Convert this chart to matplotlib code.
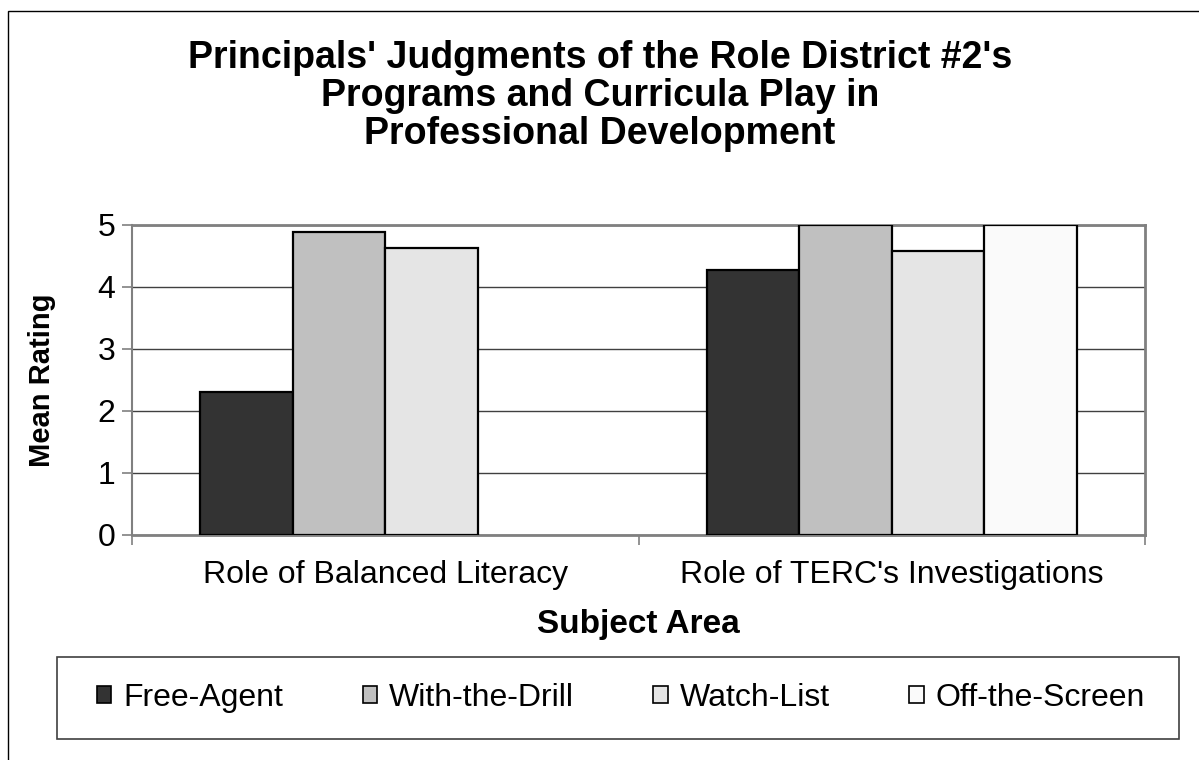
import numpy as np
import matplotlib
matplotlib.use('Agg')
from matplotlib import pyplot as plt
from matplotlib.patches import Patch, Rectangle

plt.rcParams['font.family'] = ['Liberation Sans', 'DejaVu Sans']

categories = ['Role of Balanced Literacy', "Role of TERC's Investigations"]
series = ['Free-Agent', 'With-the-Drill', 'Watch-List', 'Off-the-Screen']
values = [
    [2.3, 4.28],
    [4.89, 5.0],
    [4.63, 4.58],
    [np.nan, 5.0],
]
colors = ['#333333', '#c0c0c0', '#e5e5e5', '#fafafa']
title = "Principals' Judgments of the Role District #2's\nPrograms and Curricula Play in\nProfessional Development"

W, H = 1199, 760
fig = plt.figure(figsize=(W/100, H/100), dpi=100)
fig.patch.set_facecolor('white')

# outer chart border (right/bottom fall off the picture)
fig.patches.append(Rectangle((8/W, -0.1), 1.2, 1 - 11/H + 0.1, transform=fig.transFigure,
                             fill=False, edgecolor='black', linewidth=1.0))

ax = fig.add_axes([132/W, 1 - 535/H, (1145-132)/W, (535-225)/H])

x = np.arange(len(categories))
bw = 0.1826
for i, s in enumerate(series):
    ax.bar(x + (i - 1.5)*bw, values[i], bw, color=colors[i], edgecolor='black',
           linewidth=1.6, label=s, zorder=3)

ax.set_xlim(-0.5, 1.5)
ax.set_ylim(0, 5)
ax.set_yticks(range(6))
ax.yaxis.grid(True, color='#404040', linewidth=1.0, zorder=0)
ax.set_axisbelow(True)

ax.set_xticks([-0.5, 0.5, 1.5])
ax.set_xticklabels([])
ax.set_xticks(x, minor=True)
ax.set_xticklabels(categories, minor=True, fontsize=23)
ax.tick_params(axis='x', which='minor', length=0, pad=18)
ax.tick_params(axis='x', which='major', length=7, width=1.2, color='#808080', direction='out')
ax.tick_params(axis='y', length=7, width=1.2, color='#808080', direction='out', labelsize=23, pad=5)

for sp in ax.spines.values():
    sp.set_color('#808080')
    sp.set_linewidth(2)
ax.spines['left'].set_linewidth(1.5)

ax.set_ylabel('Mean Rating', fontsize=21, fontweight='bold', labelpad=30)
ax.set_xlabel('Subject Area', fontsize=24, fontweight='bold', labelpad=14)

fig.text(600/W, 1 - 96/H, title, ha='center', va='center', fontsize=27, fontweight='bold',
         linespacing=1.06)

# legend box
fig.patches.append(Rectangle((57/W, 1 - 739/H), (1179-57)/W, (739-657)/H, transform=fig.transFigure,
                             fill=False, edgecolor='#404040', linewidth=1.2))
handles = [Patch(facecolor=colors[i], edgecolor='black', linewidth=1.2, label=series[i]) for i in range(4)]
fig.legend(handles=handles, loc='center', bbox_to_anchor=(621/W, 1 - 698/H), ncol=4, frameon=False,
           fontsize=23, handlelength=0.45, handleheight=0.45, handletextpad=0.38, columnspacing=2.48)

fig.savefig('out.png', dpi=100)
